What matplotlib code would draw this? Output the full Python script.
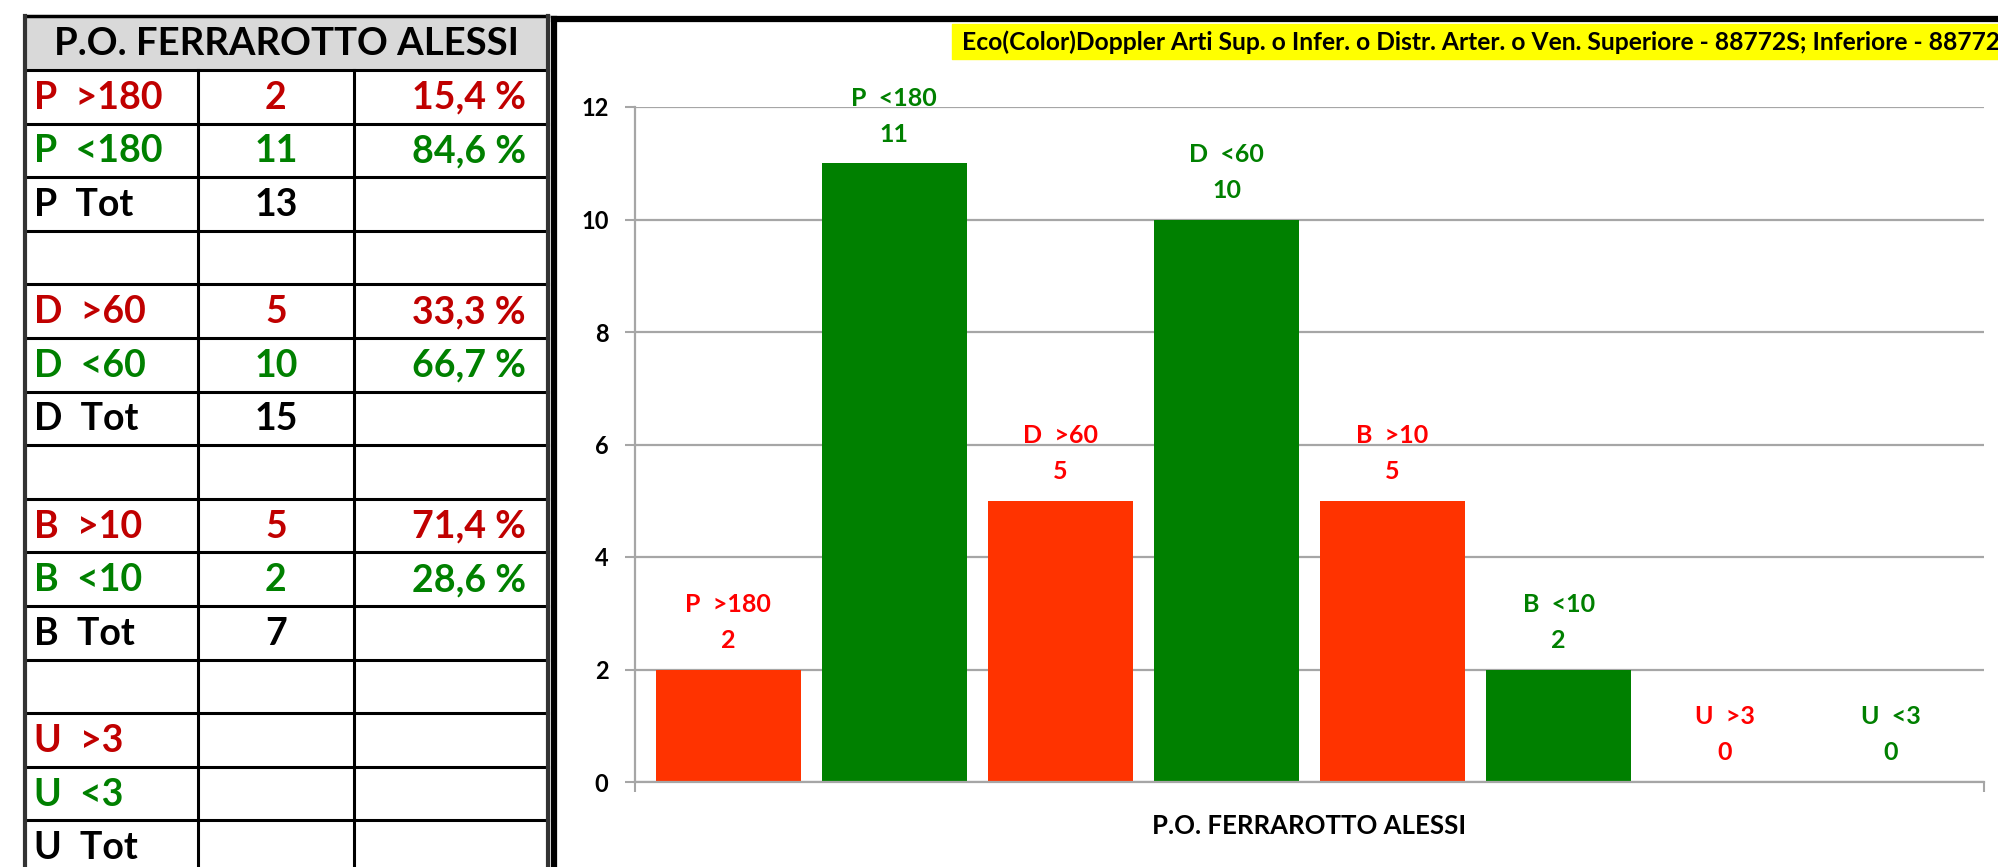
import matplotlib
matplotlib.use("Agg")
import matplotlib.pyplot as plt

plt.rcParams['font.family'] = ['Lato', 'DejaVu Sans']

# data
hospital = "P.O. FERRAROTTO ALESSI"
title = "Eco(Color)Doppler Arti Sup. o Infer. o Distr. Arter. o Ven. Superiore - 88772S; Inferiore - 88772I"
series_names = ['P  >180', 'P  <180', 'D  >60', 'D  <60', 'B  >10', 'B  <10', 'U  >3', 'U  <3']
values = [2, 11, 5, 10, 5, 2, 0, 0]
groups = ['P', 'D', 'B', 'U']
# counts written in the table (U has no entries there)
table_counts = [2, 11, 5, 10, 5, 2, None, None]
y_ticks = [0, 2, 4, 6, 8, 10, 12]

bar_red = '#ff3300'
bar_green = '#008000'
lab_red = '#ff0000'
tab_red = '#c00000'
tab_green = '#008000'

W, H = 1999, 867
fig = plt.figure(figsize=(W / 100, H / 100), dpi=100)

# --- table on the left, drawn in pixel coords ---
tab = fig.add_axes([0, 0, 1, 1])
tab.set_xlim(0, W)
tab.set_ylim(H, 0)
tab.axis('off')

x0, x1, x2, x3 = 25, 198, 354, 548
top, head_bot, row_h = 16, 70, 53.6

tab.fill_between([x0, x3], top, head_bot, color='#d9d9d9', zorder=0)
tab.text((x0 + x3) / 2, (top + head_bot) / 2 + 1, hospital, ha='center', va='center',
         fontsize=27.5, fontweight='bold', color='black')

# build table rows: >, <, Tot, blank for each group
rows = []
for g_i, g in enumerate(groups):
    hi, lo = table_counts[2 * g_i], table_counts[2 * g_i + 1]
    tot = None if hi is None else hi + lo
    def pct(v):
        if v is None or not tot:
            return ''
        return f"{100 * v / tot:.1f}".replace('.', ',') + ' %'
    rows.append((series_names[2 * g_i], '' if hi is None else str(hi), pct(hi), tab_red))
    rows.append((series_names[2 * g_i + 1], '' if lo is None else str(lo), pct(lo), tab_green))
    rows.append((g + '  Tot', '' if tot is None else str(tot), '', 'black'))
    rows.append(('', '', '', 'black'))

n_rows = len(rows)
for i, (name, cnt, pc, col) in enumerate(rows):
    yc = head_bot + (i + 0.5) * row_h
    tab.text(x0 + 9, yc + 1, name, ha='left', va='center', fontsize=27, fontweight='bold', color=col)
    tab.text((x1 + x2) / 2, yc + 1, cnt, ha='center', va='center', fontsize=27, fontweight='bold', color=col)
    tab.text(x3 - 22, yc + 1, pc, ha='right', va='center', fontsize=27, fontweight='bold', color=col)

bottom = head_bot + n_rows * row_h
for i in range(n_rows + 1):
    y = head_bot + i * row_h
    tab.plot([x0, x3], [y, y], color='black', lw=2.2, zorder=2)
tab.plot([x0, x3], [top, top], color='black', lw=2.5, zorder=2)
for x in (x1, x2):
    tab.plot([x, x], [head_bot, bottom], color='black', lw=2.2, zorder=2)
tab.plot([x0, x0], [top, bottom], color='#333333', lw=3, zorder=2)
tab.plot([x3, x3], [top, bottom], color='#333333', lw=3, zorder=2)

# chart frame (top and left edge)
tab.plot([554, W + 5], [19, 19], color='black', lw=4.5, zorder=3)
tab.plot([554, 554], [19, H + 5], color='black', lw=4.5, zorder=3)

# yellow title strip (runs off the right edge, as in the source)
tab.fill_between([952, W + 5], 24, 59, color='#ffff00', zorder=1)
tab.text(962, 42, title, ha='left', va='center', fontsize=17.7, fontweight='bold', color='black', zorder=2)

# --- bar chart ---
ax = fig.add_axes([635 / W, (H - 782) / H, 1349 / W, 675 / H])
xs = list(range(len(values)))
colors = [bar_red if i % 2 == 0 else bar_green for i in xs]
lab_colors = [lab_red if i % 2 == 0 else bar_green for i in xs]
ax.bar(xs, values, width=0.873, color=colors, zorder=2)

for x, v, name, c in zip(xs, values, series_names, lab_colors):
    ax.annotate(str(v), (x, v), xytext=(0, 29), textcoords='offset pixels',
                ha='center', va='center', fontsize=18, fontweight='bold', color=c)
    ax.annotate(name, (x, v), xytext=(0, 65), textcoords='offset pixels',
                ha='center', va='center', fontsize=18, fontweight='bold', color=c)

ax.set_xlim(-0.56, 7.56)
ax.set_ylim(0, 12)
ax.set_yticks(y_ticks)
ax.set_yticklabels([str(t) for t in y_ticks], fontsize=17, fontweight='bold')
ax.yaxis.grid(True, color='#a6a6a6', lw=1.6, zorder=0)
ax.set_axisbelow(True)

ax.set_xticks([3.5])
ax.set_xticklabels([hospital], fontsize=18.5, fontweight='bold')
ax.set_xticks([-0.56, 7.56], minor=True)
ax.tick_params(axis='x', which='major', length=0, pad=23)
ax.tick_params(axis='x', which='minor', length=7, width=1.5, color='#a6a6a6', direction='out')
ax.tick_params(axis='y', length=7, width=1.5, color='#a6a6a6', pad=12)

for s in ('top', 'right'):
    ax.spines[s].set_visible(False)
ax.spines['left'].set_color('#a6a6a6')
ax.spines['left'].set_linewidth(1.6)
ax.spines['bottom'].set_color('#a6a6a6')
ax.spines['bottom'].set_linewidth(1.6)

fig.savefig('out.png', dpi=100)
